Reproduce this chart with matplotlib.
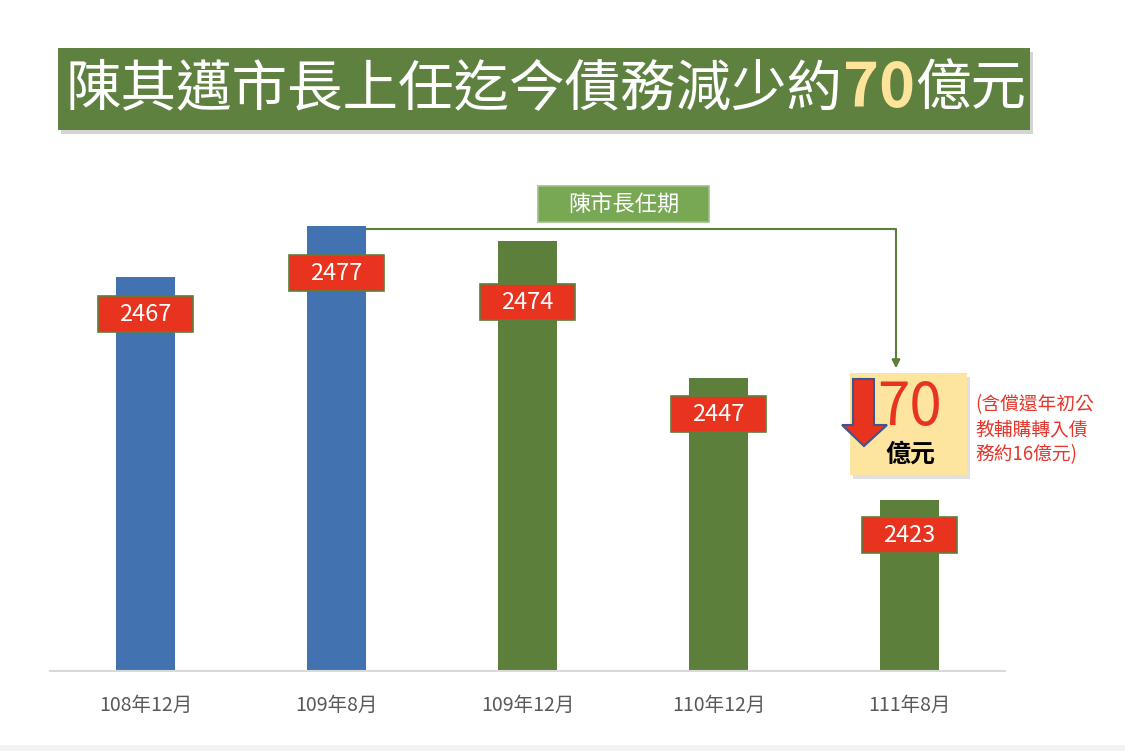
import matplotlib.pyplot as plt
from matplotlib.patches import Rectangle, Polygon

plt.rcParams['font.family'] = ['Noto Sans CJK TC', 'DejaVu Sans']

# data
periods = ['108年12月', '109年8月', '109年12月', '110年12月', '111年8月']
debt = [2467, 2477, 2474, 2447, 2423]
in_term = [False, False, True, True, True]
label_drop = [7.3, 9.3, 12.0, 7.1, 6.9]   # label box offset below bar top

blue = '#4372b0'
green = '#5c7f3c'
red = '#e8331f'

fig = plt.figure(figsize=(11.25, 7.51), dpi=100)
fig.patch.set_facecolor('white')

# main chart axes
ax = fig.add_axes([50 / 1125, 80 / 751, 955 / 1125, 501 / 751])
x = list(range(len(periods)))
colors = [green if t else blue for t in in_term]
ax.bar(x, debt, width=0.31, color=colors, zorder=2)
ax.set_xlim(-0.5, 4.5)
ax.set_ylim(2389.3, 2488.1)
ax.set_yticks([])
ax.set_xticks(x)
ax.set_xticklabels(periods, fontsize=14, color='#595959')
ax.tick_params(axis='x', length=0, pad=17)
for s in ['top', 'left', 'right']:
    ax.spines[s].set_visible(False)
ax.spines['bottom'].set_color('#d9d9d9')
ax.spines['bottom'].set_linewidth(1.5)

# value label boxes
for xi, v, d in zip(x, debt, label_drop):
    yc = v - d
    ax.add_patch(Rectangle((xi - 0.25, yc - 3.55), 0.5, 7.1, facecolor=red,
                           edgecolor='#5c7f3c', linewidth=1.2, zorder=3))
    ax.text(xi, yc, str(v), ha='center', va='center', color='white',
            fontsize=17, zorder=4)

# overlay in pixel coordinates for annotations
ov = fig.add_axes([0, 0, 1, 1])
ov.set_xlim(0, 1125)
ov.set_ylim(751, 0)
ov.axis('off')
ov.patch.set_visible(False)

# page band
ov.add_patch(Rectangle((0, 745), 1125, 6, facecolor='#f2f2f2', edgecolor='none'))

# title banner
ov.add_patch(Rectangle((61, 52), 972, 82, facecolor='#b8b8b8', edgecolor='none', alpha=0.6))
ov.add_patch(Rectangle((58, 48), 972, 82, facecolor='#5e8140', edgecolor='none'))
t1 = ov.text(66, 89, '陳其邁市長上任迄今債務減少約', fontsize=40, color='white',
             va='center', ha='left', fontweight='light')
t2 = ov.annotate('70', xy=(1, 0.5), xycoords=t1, va='center', ha='left',
                 fontsize=44, color='#fde49a', fontweight='bold')
ov.annotate('億元', xy=(1, 0.5), xycoords=t2, va='center', ha='left',
            fontsize=40, color='white', fontweight='light')

# term bracket
ov.add_patch(Rectangle((538, 186), 171, 36, facecolor='#78a853', edgecolor='#9fbf86', linewidth=1.2))
ov.text(623.5, 204, '陳市長任期', fontsize=16, color='white', ha='center', va='center')
ov.plot([367, 896, 896], [229, 229, 362], color=green, lw=1.5)
ov.annotate('', xy=(896, 371), xytext=(896, 360),
            arrowprops=dict(arrowstyle='-|>', color=green, lw=1.5, mutation_scale=12))

# reduction box
ov.add_patch(Rectangle((853, 377), 117, 102, facecolor='#cccccc', edgecolor='none', alpha=0.6))
ov.add_patch(Rectangle((850, 373), 117, 102, facecolor='#fde59f', edgecolor='none'))
ov.text(910, 408, '70', fontsize=42, color=red, ha='center', va='center')
ov.text(910, 455, '億元', fontsize=18, color='black', ha='center', va='center', fontweight='bold')
ov.add_patch(Polygon([(853, 379), (874, 379), (874, 425), (887, 425), (864, 446),
                      (842, 425), (853, 425)], closed=True, facecolor=red,
                     edgecolor='#3f5591', linewidth=1.5))

ov.text(975, 430, '(含償還年初公\n教輔購轉入債\n務約16億元)', fontsize=13.5, color='#e5362b',
        ha='left', va='center', linespacing=1.25)

fig.savefig('out.png', dpi=100)
